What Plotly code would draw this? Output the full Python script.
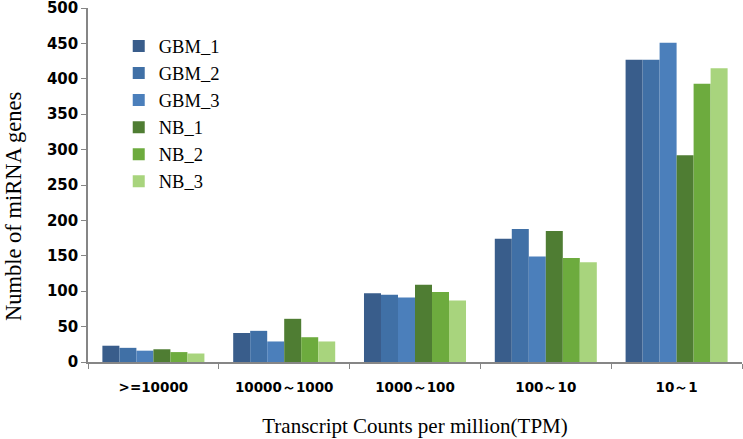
import plotly.graph_objects as go

# categories and values
categories = ['>=10000', '10000～1000', '1000～100', '100～10', '10～1']
series = ['GBM_1', 'GBM_2', 'GBM_3', 'NB_1', 'NB_2', 'NB_3']
gbm_1 = [23, 41, 97, 174, 427]
gbm_2 = [20, 44, 95, 188, 427]
gbm_3 = [16, 29, 91, 149, 451]
nb_1 = [18, 61, 109, 185, 292]
nb_2 = [14, 35, 99, 147, 393]
nb_3 = [12, 29, 87, 141, 415]
colors = ['#395d8b', '#4070a6', '#4b7fbb', '#4f7d33', '#6dab3e', '#a8d47d']

values = [gbm_1, gbm_2, gbm_3, nb_1, nb_2, nb_3]

fig = go.Figure()
for name, vals, col in zip(series, values, colors):
    fig.add_trace(go.Bar(x=categories, y=vals, name=name, marker_color=col,
                         marker_line_width=0, legendgroup=name))

fig.update_layout(
    width=743, height=439,
    margin=dict(l=88, r=1, t=8, b=77),
    plot_bgcolor='white', paper_bgcolor='white',
    barmode='group', bargap=0.22, bargroupgap=0,
    font=dict(family='Liberation Serif', color='black'),
    legend=dict(x=0.047, y=0.945, xanchor='left', yanchor='top',
                bgcolor='rgba(0,0,0,0)', font=dict(family='Liberation Serif', size=18.5),
                tracegroupgap=6.5, traceorder='normal'),
)
fig.update_xaxes(
    showline=True, linecolor='#868686', linewidth=1.5,
    ticks='outside', tickson='boundaries', tickcolor='#868686', ticklen=5,
    ticklabelstandoff=12,
    tickfont=dict(family='DejaVu Sans', size=13.5, weight='bold'),
    title=dict(text='Transcript Counts per million(TPM)', font=dict(family='Liberation Serif', size=21),
               standoff=24),
    automargin=False,
)
fig.update_yaxes(
    range=[0, 500], dtick=50, showgrid=False, zeroline=False,
    showline=True, linecolor='#868686', linewidth=1.5,
    ticks='outside', tickcolor='#868686', ticklen=5,
    ticklabeloverflow='allow',
    tickfont=dict(family='DejaVu Sans', size=15, weight='bold'),
    automargin=False,
)
# y title sits a bit below the middle of the axis in the original
fig.add_annotation(text='Numble of miRNA genes', textangle=-90, showarrow=False,
                   xref='paper', yref='paper', x=-0.115, y=0.44,
                   xanchor='center', yanchor='middle',
                   font=dict(family='Liberation Serif', size=22.5))

# page has a default 8px body margin, drop it so the chart sits at the corner
fig.write_html("out.html", config={'displayModeBar': False},
               post_script="document.body.style.margin='0';")
